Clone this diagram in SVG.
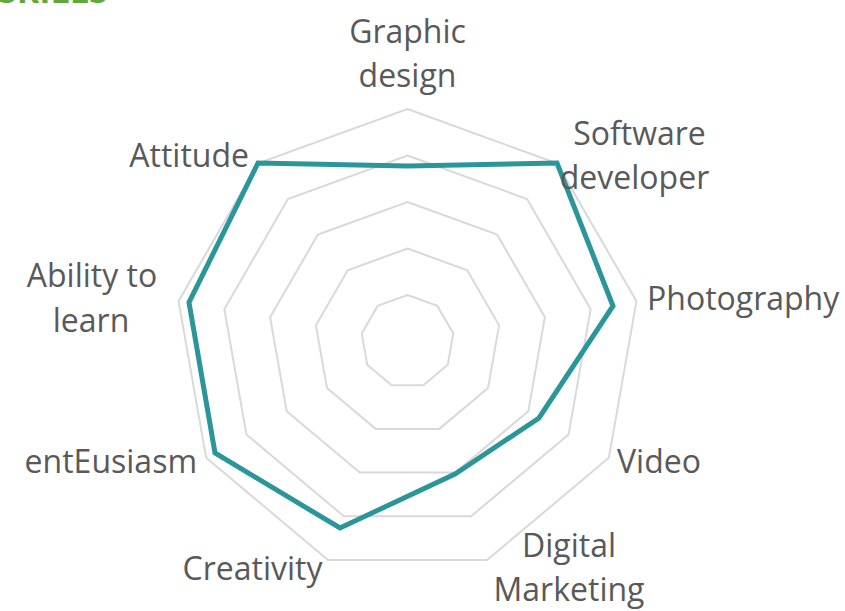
<svg xmlns="http://www.w3.org/2000/svg" width="845" height="611" viewBox="0 0 845 611">
<style>
.ring{fill:none;stroke:#d9d9d9;stroke-width:2}
.data{fill:none;stroke:#2b9699;stroke-width:5;stroke-linejoin:miter}
.lbl{font-family:"Open Sans","Noto Sans",sans-serif;font-size:32px;fill:#595959}
.title{font-family:"Open Sans","Noto Sans",sans-serif;font-size:34px;font-weight:bold;fill:#62a73b}
</style>
<rect width="845" height="611" fill="#ffffff"/>
<text class="title" x="-2" y="3">SKILLS</text>
<g id="grid">
<polygon class="ring" points="407.5,109 556.95,163.4 636.47,301.14 608.85,457.75 487.02,559.98 327.98,559.98 206.15,457.75 178.53,301.14 258.05,163.4"/>
<polygon class="ring" points="407.5,155.5 527.06,199.02 590.67,309.21 568.58,434.5 471.11,516.28 343.89,516.28 246.42,434.5 224.33,309.21 287.94,199.02"/>
<polygon class="ring" points="407.5,202 497.17,234.64 544.88,317.28 528.31,411.25 455.21,472.59 359.79,472.59 286.69,411.25 270.12,317.28 317.83,234.64"/>
<polygon class="ring" points="407.5,248.5 467.28,270.26 499.09,325.36 488.04,388 439.31,428.89 375.69,428.89 326.96,388 315.91,325.36 347.72,270.26"/>
<polygon class="ring" points="407.5,295 437.39,305.88 453.29,333.43 447.77,364.75 423.4,385.2 391.6,385.2 367.23,364.75 361.71,333.43 377.61,305.88"/>
</g>
<g id="connectors">
<polygon id="series" class="data" points="407.5,166 557,163 613,306 539,418 455,474 340,528 215,453 189,302.5 258,163"/>
</g>
<g id="label-graphic-design"><text class="lbl" text-anchor="middle" x="407.5" y="43">Graphic</text><text class="lbl" text-anchor="middle" x="407.5" y="87">design</text></g>
<g id="label-software-developer"><text class="lbl" text-anchor="middle" x="639.5" y="145">Software</text><text class="lbl" text-anchor="middle" x="634.5" y="189">developer</text></g>
<g id="label-photography"><text class="lbl" x="647" y="310">Photography</text></g>
<g id="label-video"><text class="lbl" x="617" y="473">Video</text></g>
<g id="label-digital-marketing"><text class="lbl" text-anchor="middle" x="569" y="557">Digital</text><text class="lbl" text-anchor="middle" x="569" y="601">Marketing</text></g>
<g id="label-creativity"><text class="lbl" text-anchor="middle" x="252.5" y="580">Creativity</text></g>
<g id="label-enteusiasm"><text class="lbl" text-anchor="end" x="197" y="473">entEusiasm</text></g>
<g id="label-ability"><text class="lbl" text-anchor="middle" x="92" y="287">Ability to</text><text class="lbl" text-anchor="middle" x="91" y="332">learn</text></g>
<g id="label-attitude"><text class="lbl" text-anchor="end" x="249" y="167">Attitude</text></g>
</svg>
